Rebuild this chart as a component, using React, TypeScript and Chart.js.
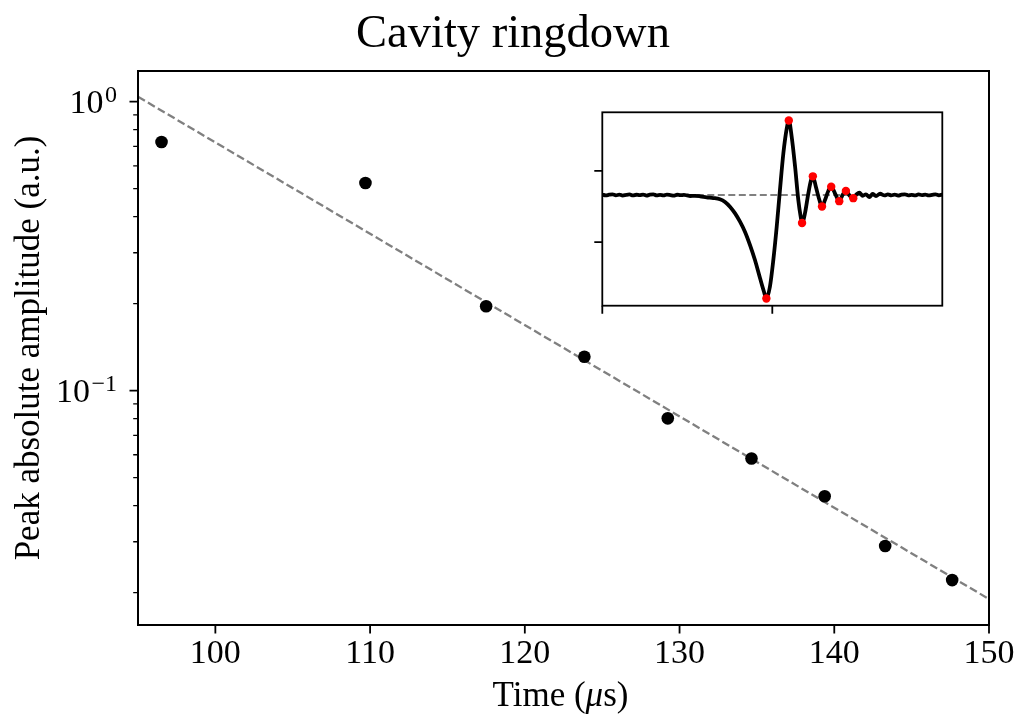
import React, { useEffect, useRef } from "react";
import { Chart, registerables } from "chart.js";

Chart.register(...registerables);

// Ringdown peak amplitudes (main panel)
const peakTimes = [96.52, 109.7, 117.5, 123.85, 129.24, 134.65, 139.38, 143.29, 147.62];
const peakAmplitudes = [0.725, 0.523, 0.196, 0.131, 0.0802, 0.0582, 0.0431, 0.029, 0.0221];

// Exponential fit, drawn as a straight line on the log axis
const fitTimes = [95, 150];
const fitAmplitudes = [1.04, 0.019];

// Axis ticks
const xTicks = [100, 110, 120, 130, 140, 150];
const yMajorTicks = [0.1, 1];
const yMajorExponents = ["\u22121", "0"];
const yMinorTicks = [0.02, 0.03, 0.04, 0.05, 0.06, 0.07, 0.08, 0.09, 0.2, 0.3, 0.4, 0.5, 0.6, 0.7, 0.8, 0.9];

// Inset: raw cavity signal
const traceTimes = [
  0, 2, 4, 6, 8, 10, 12, 14, 16, 18, 20, 22, 24, 26, 28, 30, 32, 34, 36, 38, 40, 42, 44, 46, 48, 50,
  51.6, 54.5, 57.5, 61.4, 65.3, 69.2, 72.2, 75.1, 78.1, 81.0, 83.9, 86.9, 89.8, 92.8, 95.1,
  96.52, 98.6, 100.6, 102.6, 104.5, 106.5, 108.5, 109.7, 111.4, 113.4, 115.3, 116.7, 117.5,
  119.2, 121.2, 122.8, 123.85, 125.7, 127.7, 129.24, 131.0, 133.0, 134.65, 137.3, 139.38,
  141.4, 143.29, 145.7, 147.62, 149.6, 151.2, 153.2, 155.1, 157.1, 159.0, 161.0, 163.4,
  166, 168, 170, 172, 174, 176, 178, 180, 182, 184, 186, 188, 190, 192, 194, 196, 198, 200,
];
const traceSignal = [
  0.334, 0.327, 0.332, 0.335, 0.328, 0.333, 0.326, 0.331, 0.334, 0.327, 0.332, 0.329, 0.333, 0.326, 0.332, 0.334, 0.328, 0.331, 0.327, 0.333, 0.33, 0.326, 0.332, 0.329, 0.331, 0.327,
  0.323, 0.324, 0.321, 0.314, 0.309, 0.3, 0.281, 0.248, 0.201, 0.143, 0.073, -0.021, -0.126, -0.254, -0.348,
  -0.395, -0.313, -0.126, 0.108, 0.365, 0.622, 0.797, 0.853, 0.739, 0.529, 0.295, 0.178, 0.134,
  0.201, 0.342, 0.435, 0.461, 0.384, 0.295, 0.25, 0.295, 0.36, 0.388, 0.33, 0.287,
  0.332, 0.359, 0.323, 0.308, 0.335, 0.346, 0.325, 0.335, 0.316, 0.337, 0.323, 0.339,
  0.327, 0.334, 0.328, 0.333, 0.326, 0.332, 0.335, 0.328, 0.331, 0.327, 0.334, 0.329, 0.333, 0.327, 0.331, 0.335, 0.328, 0.332,
];
const detectedPeakTimes = [96.52, 109.7, 117.5, 123.85, 129.24, 134.65, 139.38, 143.29, 147.62];
const detectedPeakSignal = [-0.395, 0.853, 0.134, 0.461, 0.25, 0.388, 0.287, 0.359, 0.308];
const baselineTimes = [0, 200];
const baselineSignal = [0.33, 0.33];
const insetXTicks = [0, 100];
const insetYTicks = [0, 0.5];

const SERIF = '"Liberation Serif", "Times New Roman", serif';

const zip = (xs: number[], ys: number[]) => xs.map((x, i) => ({ x, y: ys[i] }));

const mainDecor = {
  id: "mainDecor",
  afterDraw(chart: any) {
    const { ctx, chartArea: a, scales } = chart;
    const xs = scales.x;
    const ys = scales.y;
    ctx.save();
    ctx.strokeStyle = "#000";
    ctx.fillStyle = "#000";

    // frame
    ctx.lineWidth = 2;
    ctx.strokeRect(a.left, a.top, a.right - a.left, a.bottom - a.top);

    // major ticks
    ctx.lineWidth = 1.8;
    ctx.beginPath();
    xTicks.forEach((v) => {
      const px = xs.getPixelForValue(v);
      ctx.moveTo(px, a.bottom);
      ctx.lineTo(px, a.bottom + 8.5);
    });
    yMajorTicks.forEach((v) => {
      const py = ys.getPixelForValue(v);
      ctx.moveTo(a.left, py);
      ctx.lineTo(a.left - 8.5, py);
    });
    ctx.stroke();

    // minor ticks
    ctx.lineWidth = 1.3;
    ctx.beginPath();
    yMinorTicks.forEach((v) => {
      const py = ys.getPixelForValue(v);
      ctx.moveTo(a.left, py);
      ctx.lineTo(a.left - 4.8, py);
    });
    ctx.stroke();

    // y tick labels: 10 with superscript exponent
    ctx.textBaseline = "alphabetic";
    ctx.textAlign = "right";
    const labelRight = a.left - 21;
    yMajorTicks.forEach((v, i) => {
      const py = ys.getPixelForValue(v);
      const exp = yMajorExponents[i];
      ctx.font = `24px ${SERIF}`;
      const ew = ctx.measureText(exp).width;
      ctx.fillText(exp, labelRight, py);
      ctx.font = `34px ${SERIF}`;
      ctx.fillText("10", labelRight - ew - 1.5, py + 11.5);
    });

    // title
    ctx.textAlign = "center";
    ctx.font = `46.5px ${SERIF}`;
    ctx.fillText("Cavity ringdown", 513, 46.5);

    // x axis label with italic mu
    const parts: [string, string][] = [
      ["Time (", `35px ${SERIF}`],
      ["\u03bc", `italic 35px ${SERIF}`],
      ["s)", `35px ${SERIF}`],
    ];
    let total = 0;
    const widths = parts.map(([t, f]) => {
      ctx.font = f;
      const w = ctx.measureText(t).width;
      total += w;
      return w;
    });
    let cx = (a.left + a.right) / 2 - 3 - total / 2;
    ctx.textAlign = "left";
    parts.forEach(([t, f], i) => {
      ctx.font = f;
      ctx.fillText(t, cx, 705.5);
      cx += widths[i];
    });

    // y axis label
    ctx.save();
    ctx.translate(39, (a.top + a.bottom) / 2);
    ctx.rotate(-Math.PI / 2);
    ctx.textAlign = "center";
    ctx.font = `35px ${SERIF}`;
    ctx.fillText("Peak absolute amplitude (a.u.)", 0, 0);
    ctx.restore();

    ctx.restore();
  },
};

const insetDecor = {
  id: "insetDecor",
  afterDraw(chart: any) {
    const { ctx, chartArea: a, scales } = chart;
    ctx.save();
    ctx.strokeStyle = "#000";
    ctx.lineWidth = 1.8;
    ctx.strokeRect(a.left, a.top, a.right - a.left, a.bottom - a.top);
    ctx.beginPath();
    insetXTicks.forEach((v) => {
      const px = scales.x.getPixelForValue(v);
      ctx.moveTo(px, a.bottom);
      ctx.lineTo(px, a.bottom + 8);
    });
    insetYTicks.forEach((v) => {
      const py = scales.y.getPixelForValue(v);
      ctx.moveTo(a.left, py);
      ctx.lineTo(a.left - 8, py);
    });
    ctx.stroke();
    ctx.restore();
  },
};

export default function App() {
  const mainRef = useRef<HTMLCanvasElement | null>(null);
  const insetRef = useRef<HTMLCanvasElement | null>(null);

  useEffect(() => {
    if (!mainRef.current || !insetRef.current) return;

    const main = new Chart(mainRef.current, {
      type: "scatter",
      data: {
        datasets: [
          {
            label: "peaks",
            data: zip(peakTimes, peakAmplitudes),
            backgroundColor: "#000",
            borderWidth: 0,
            pointRadius: 6.3,
            pointHoverRadius: 6.3,
          },
          {
            label: "fit",
            data: zip(fitTimes, fitAmplitudes),
            showLine: true,
            borderColor: "#808080",
            borderWidth: 2.3,
            borderDash: [8, 3.5],
            pointRadius: 0,
            pointHoverRadius: 0,
          },
        ],
      },
      options: {
        animation: false,
        responsive: false,
        events: [],
        layout: { padding: { top: 71, right: 35, left: 0, bottom: 0 } },
        plugins: { legend: { display: false }, tooltip: { enabled: false }, title: { display: false } },
        scales: {
          x: {
            type: "linear",
            min: 95,
            max: 150,
            grid: { display: false, drawTicks: false },
            border: { display: false },
            ticks: { color: "#000", font: { family: SERIF, size: 34 }, padding: 9, maxRotation: 0, autoSkip: false },
            afterBuildTicks: (s: any) => {
              s.ticks = xTicks.map((v) => ({ value: v }));
            },
            afterFit: (s: any) => {
              s.height = 93;
            },
          },
          y: {
            type: "logarithmic",
            min: 0.01545,
            max: 1.277,
            grid: { display: false, drawTicks: false },
            border: { display: false },
            ticks: { display: false },
            afterBuildTicks: (s: any) => {
              s.ticks = yMajorTicks.map((v) => ({ value: v, major: true }));
            },
            afterFit: (s: any) => {
              s.width = 138;
            },
          },
        },
      },
      plugins: [mainDecor],
    });

    const inset = new Chart(insetRef.current, {
      type: "scatter",
      data: {
        datasets: [
          {
            label: "detected peaks",
            data: zip(detectedPeakTimes, detectedPeakSignal),
            backgroundColor: "#ff0000",
            borderWidth: 0,
            pointRadius: 4.2,
            pointHoverRadius: 4.2,
          },
          {
            label: "signal",
            data: zip(traceTimes, traceSignal),
            showLine: true,
            borderColor: "#000",
            borderWidth: 3.8,
            cubicInterpolationMode: "monotone",
            pointRadius: 0,
            pointHoverRadius: 0,
          },
          {
            label: "baseline",
            data: zip(baselineTimes, baselineSignal),
            showLine: true,
            borderColor: "#808080",
            borderWidth: 1.8,
            borderDash: [7, 3.5],
            pointRadius: 0,
            pointHoverRadius: 0,
          },
        ],
      },
      options: {
        animation: false,
        responsive: false,
        events: [],
        layout: { padding: { top: 12.3, left: 12.3, right: 7.7, bottom: 14.3 } },
        plugins: { legend: { display: false }, tooltip: { enabled: false } },
        scales: {
          x: { type: "linear", min: 0, max: 200, display: false },
          y: { type: "linear", min: -0.446, max: 0.91, display: false },
        },
      },
      plugins: [insetDecor],
    });

    return () => {
      main.destroy();
      inset.destroy();
    };
  }, []);

  return (
    <div style={{ position: "fixed", left: 0, top: 0, width: 1024, height: 718, background: "#fff" }}>
      <canvas ref={mainRef} width={1024} height={718} style={{ position: "absolute", left: 0, top: 0 }} />
      <canvas ref={insetRef} width={360} height={220} style={{ position: "absolute", left: 590, top: 100 }} />
    </div>
  );
}
